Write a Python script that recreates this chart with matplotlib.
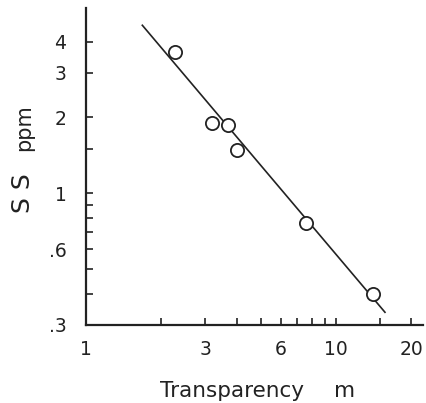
import matplotlib
matplotlib.use("Agg")
import matplotlib.pyplot as plt

# data
transparency = [2.27, 3.19, 3.70, 4.01, 7.6, 14.1]
ss_ppm = [3.63, 1.90, 1.86, 1.49, 0.76, 0.40]
line_x = [1.68, 15.7]
line_y = [4.64, 0.337]

x_major = [1, 3, 6, 10, 20]
x_major_labels = ["1", "3", "6", "10", "20"]
x_minor = [2, 4, 5, 7, 8, 9, 15]
y_major = [0.3, 0.6, 1, 2, 3, 4]
y_major_labels = [".3", ".6", "1", "2", "3", "4"]
y_minor = [0.4, 0.5, 0.7, 0.8, 0.9, 1.5]

ink = "#222222"
fig = plt.figure(figsize=(4.26, 4.03), dpi=100)
ax = fig.add_axes([86/426, 78/403, 337/426, 317/403])
ax.set_xscale("log")
ax.set_yscale("log")
ax.set_xlim(1, 10 ** (337/250))
ax.set_ylim(0.3, 0.3 * 10 ** (317/252))

ax.plot(line_x, line_y, color=ink, lw=1.2)
ax.plot(transparency, ss_ppm, "o", mfc="white", mec=ink, mew=1.3, ms=9.5, ls="none")

for s in ["top", "right"]:
    ax.spines[s].set_visible(False)
for s in ["left", "bottom"]:
    ax.spines[s].set_linewidth(1.6)
    ax.spines[s].set_color(ink)

ax.set_xticks(x_major)
ax.set_xticklabels(x_major_labels)
ax.set_xticks(x_minor, minor=True)
ax.set_xticklabels([], minor=True)
ax.set_yticks(y_major)
ax.set_yticklabels(y_major_labels)
ax.set_yticks(y_minor, minor=True)
ax.set_yticklabels([], minor=True)
ax.tick_params(which="both", direction="in", length=5, width=1.2, color=ink,
               labelsize=13.5, labelcolor=ink)
ax.tick_params(axis="y", pad=14)
ax.tick_params(axis="x", pad=11)

fig.text(23/426, 1 - 193/403, "S S", rotation=90, ha="center", va="center",
         fontsize=18, color=ink)
fig.text(24/426, 1 - 128/403, "ppm", rotation=90, ha="center", va="center",
         fontsize=15, color=ink)
fig.text(232/426, 1 - 397/403, "Transparency", ha="center", va="baseline",
         fontsize=15.5, color=ink)
fig.text(345/426, 1 - 397/403, "m", ha="center", va="baseline",
         fontsize=15.5, color=ink)

fig.savefig("out.png", dpi=100, facecolor="white")
